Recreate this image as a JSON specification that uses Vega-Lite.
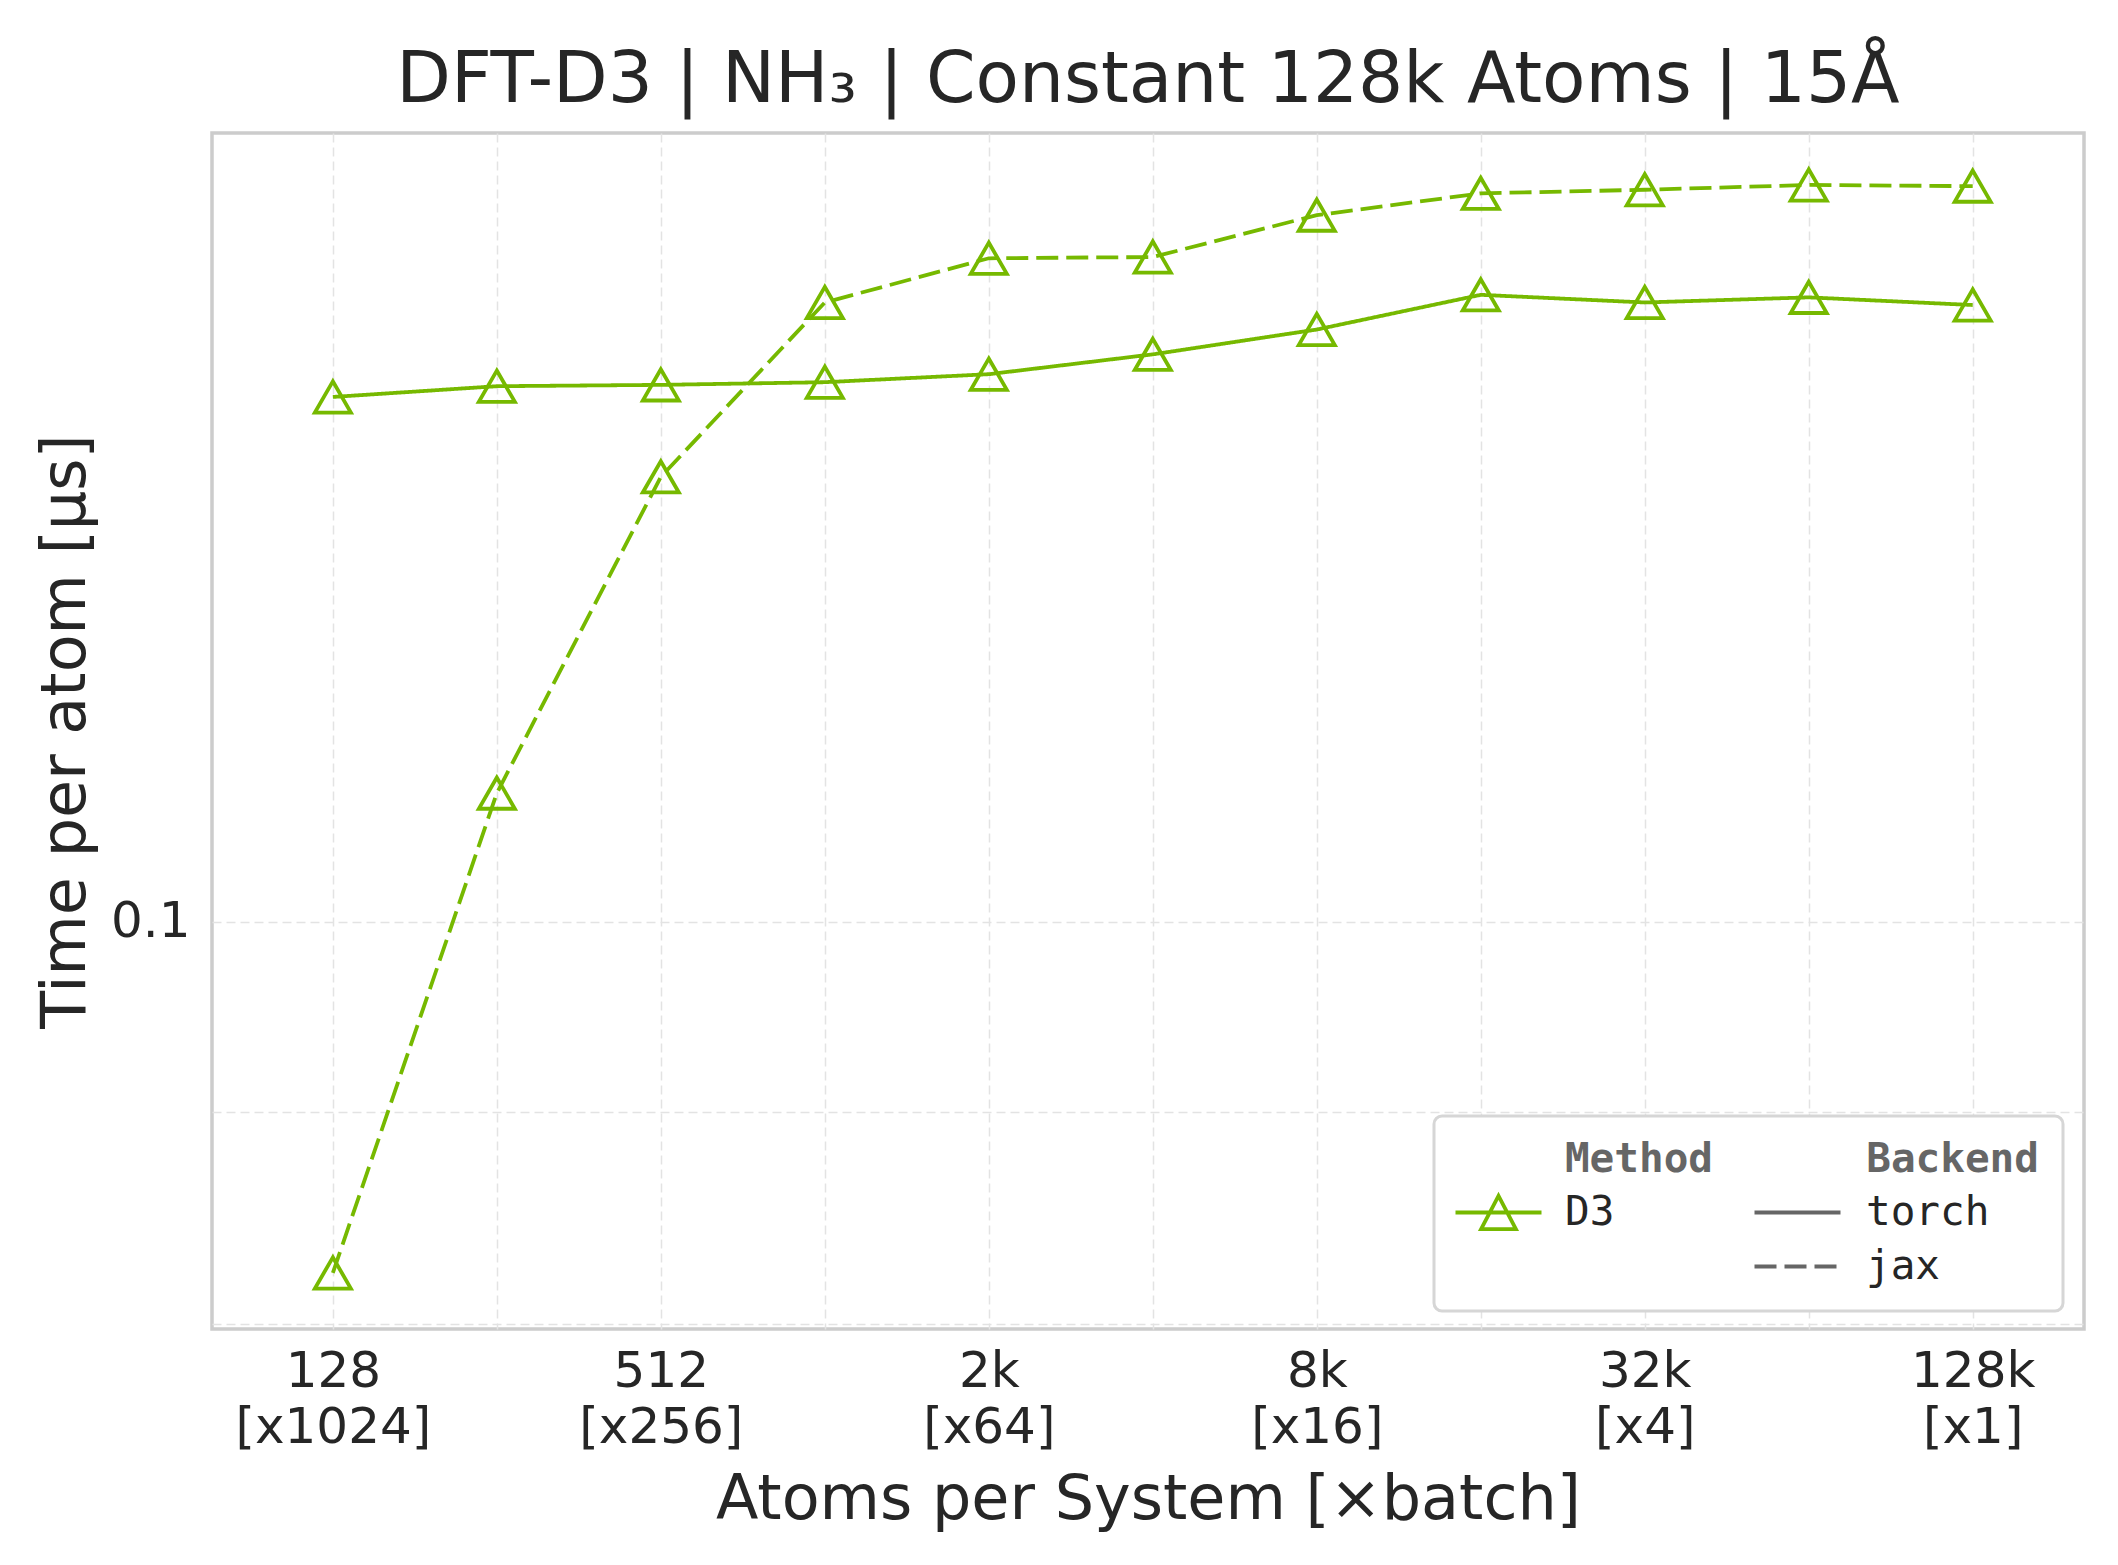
{
  "$schema": "https://vega.github.io/schema/vega-lite/v6.json",
  "width": 1872,
  "height": 1196,
  "autosize": {"type": "none"},
  "padding": {"left": 212, "top": 133, "right": 34, "bottom": 236},
  "background": "white",
  "title": {
    "text": "DFT-D3 | NH₃ | Constant 128k Atoms | 15Å",
    "font": "DejaVu Sans",
    "fontSize": 71,
    "fontWeight": "normal",
    "color": "#262626",
    "anchor": "middle",
    "baseline": "alphabetic",
    "offset": 14,
    "dy": 54
  },
  "data": {
    "values": [
      {"atoms": 128, "backend": "torch", "method": "D3", "time": 0.1338},
      {"atoms": 256, "backend": "torch", "method": "D3", "time": 0.1346},
      {"atoms": 512, "backend": "torch", "method": "D3", "time": 0.1347},
      {"atoms": 1024, "backend": "torch", "method": "D3", "time": 0.1349},
      {"atoms": 2048, "backend": "torch", "method": "D3", "time": 0.1355},
      {"atoms": 4096, "backend": "torch", "method": "D3", "time": 0.1370},
      {"atoms": 8192, "backend": "torch", "method": "D3", "time": 0.1389},
      {"atoms": 16384, "backend": "torch", "method": "D3", "time": 0.1416},
      {"atoms": 32768, "backend": "torch", "method": "D3", "time": 0.1410},
      {"atoms": 65536, "backend": "torch", "method": "D3", "time": 0.1414},
      {"atoms": 131072, "backend": "torch", "method": "D3", "time": 0.1408},
      {"atoms": 128, "backend": "jax", "method": "D3", "time": 0.0823},
      {"atoms": 256, "backend": "jax", "method": "D3", "time": 0.1074},
      {"atoms": 512, "backend": "jax", "method": "D3", "time": 0.1280},
      {"atoms": 1024, "backend": "jax", "method": "D3", "time": 0.1410},
      {"atoms": 2048, "backend": "jax", "method": "D3", "time": 0.1445},
      {"atoms": 4096, "backend": "jax", "method": "D3", "time": 0.1446},
      {"atoms": 8192, "backend": "jax", "method": "D3", "time": 0.1480},
      {"atoms": 16384, "backend": "jax", "method": "D3", "time": 0.1498},
      {"atoms": 32768, "backend": "jax", "method": "D3", "time": 0.1501},
      {"atoms": 65536, "backend": "jax", "method": "D3", "time": 0.1505},
      {"atoms": 131072, "backend": "jax", "method": "D3", "time": 0.1504}
    ]
  },
  "layer": [
    {
      "mark": {"type": "line", "strokeWidth": 3.8},
      "encoding": {
        "x": {
          "field": "atoms",
          "type": "quantitative",
          "scale": {"type": "log", "base": 2, "domain": [76.8, 209800], "nice": false},
          "title": "Atoms per System [×batch]",
          "axis": {
            "values": [128, 256, 512, 1024, 2048, 4096, 8192, 16384, 32768, 65536, 131072],
            "labelExpr": "datum.value == 128 ? ['128', '[x1024]'] : datum.value == 512 ? ['512', '[x256]'] : datum.value == 2048 ? ['2k', '[x64]'] : datum.value == 8192 ? ['8k', '[x16]'] : datum.value == 32768 ? ['32k', '[x4]'] : datum.value == 131072 ? ['128k', '[x1]'] : ''",
            "labelFont": "DejaVu Sans",
            "labelFontSize": 50,
            "labelColor": "#262626",
            "labelPadding": 17,
            "labelLineHeight": 56,
            "labelLimit": 500,
            "labelOverlap": false,
            "labelFlush": false,
            "labelBound": false,
            "ticks": false,
            "tickSize": 0,
            "domain": false,
            "grid": true,
            "gridColor": "#e3e3e3",
            "gridDash": [9, 5],
            "gridWidth": 1.5,
            "titleFont": "DejaVu Sans",
            "titleFontSize": 62,
            "titleFontWeight": "normal",
            "titleColor": "#262626",
            "titlePadding": 17
          }
        },
        "y": {
          "field": "time",
          "type": "quantitative",
          "scale": {"type": "log", "domain": [0.07978, 0.1549], "nice": false, "zero": false},
          "title": "Time per atom [µs]",
          "axis": {
            "values": [0.08, 0.09, 0.1],
            "labelExpr": "datum.value == 0.1 ? '0.1' : ''",
            "labelFont": "DejaVu Sans",
            "labelFontSize": 50,
            "labelColor": "#262626",
            "labelPadding": 22,
            "ticks": false,
            "tickSize": 0,
            "domain": false,
            "grid": true,
            "gridColor": "#e3e3e3",
            "gridDash": [9, 5],
            "gridWidth": 1.5,
            "titleFont": "DejaVu Sans",
            "titleFontSize": 62,
            "titleFontWeight": "normal",
            "titleColor": "#262626",
            "titlePadding": 13
          }
        },
        "color": {
          "field": "method",
          "type": "nominal",
          "scale": {"domain": ["D3"], "range": ["#76b900"]},
          "legend": {
            "orient": "none",
            "legendX": 1222,
            "legendY": 983,
            "padding": 24,
            "zindex": 2,
            "title": "Method",
            "titleAnchor": "end",
            "titleFont": "DejaVu Sans Mono",
            "titleFontSize": 41,
            "titleFontWeight": "bold",
            "titleColor": "#666666",
            "titlePadding": 8,
            "titleLimit": 600,
            "labelFont": "DejaVu Sans Mono",
            "labelFontSize": 41,
            "labelColor": "#262626",
            "labelExpr": "datum.label + '\u00a0\u00a0\u00a0\u00a0\u200b'",
            "labelLimit": 600,
            "labelOffset": 43,
            "symbolOffset": 17,
            "symbolType": "M-2,0L2,0M0,-0.77L-0.81,0.77L0.81,0.77Z",
            "symbolSize": 1849,
            "symbolStrokeWidth": 3.8,
            "symbolStrokeColor": "#76b900",
            "symbolFillColor": "transparent",
            "encode": {
              "symbols": {"update": {"fill": {"value": "transparent"}, "stroke": {"value": "#76b900"}, "strokeWidth": {"value": 3.8}}}
            }
          }
        },
        "strokeDash": {
          "field": "backend",
          "type": "nominal",
          "scale": {"domain": ["torch", "jax"], "range": [[1, 0], [22, 8]]},
          "legend": {
            "orient": "none",
            "legendX": 1222,
            "legendY": 983,
            "padding": 24,
            "zindex": 1,
            "title": "Backend",
            "titleAnchor": "end",
            "titleFont": "DejaVu Sans Mono",
            "titleFontSize": 41,
            "titleFontWeight": "bold",
            "titleColor": "#666666",
            "titlePadding": 8,
            "titleLimit": 600,
            "labelFont": "DejaVu Sans Mono",
            "labelFontSize": 41,
            "labelColor": "#262626",
            "labelExpr": "datum.label + '\u00a0\u00a0\u200b'",
            "labelLimit": 600,
            "labelOffset": 45,
            "symbolOffset": 316,
            "symbolType": "M-2,0L2,0",
            "symbolSize": 1849,
            "symbolStrokeWidth": 3.8,
            "symbolStrokeColor": "#666666",
            "rowPadding": 10,
            "fillColor": "white",
            "strokeColor": "#d6d6d6",
            "cornerRadius": 8,
            "encode": {
              "symbols": {"update": {"stroke": {"value": "#666666"}, "strokeWidth": {"value": 3.8}}},
              "legend": {"update": {"strokeWidth": {"value": 3}}}
            }
          }
        }
      }
    },
    {
      "mark": {
        "type": "point",
        "shape": "triangle-up",
        "filled": false,
        "size": 1300,
        "strokeWidth": 3.8,
        "opacity": 1,
        "color": "#76b900"
      },
      "encoding": {
        "x": {"field": "atoms", "type": "quantitative"},
        "y": {"field": "time", "type": "quantitative"}
      }
    }
  ],
  "config": {
    "font": "DejaVu Sans",
    "view": {"stroke": "#cccccc", "strokeWidth": 3.5}
  }
}
